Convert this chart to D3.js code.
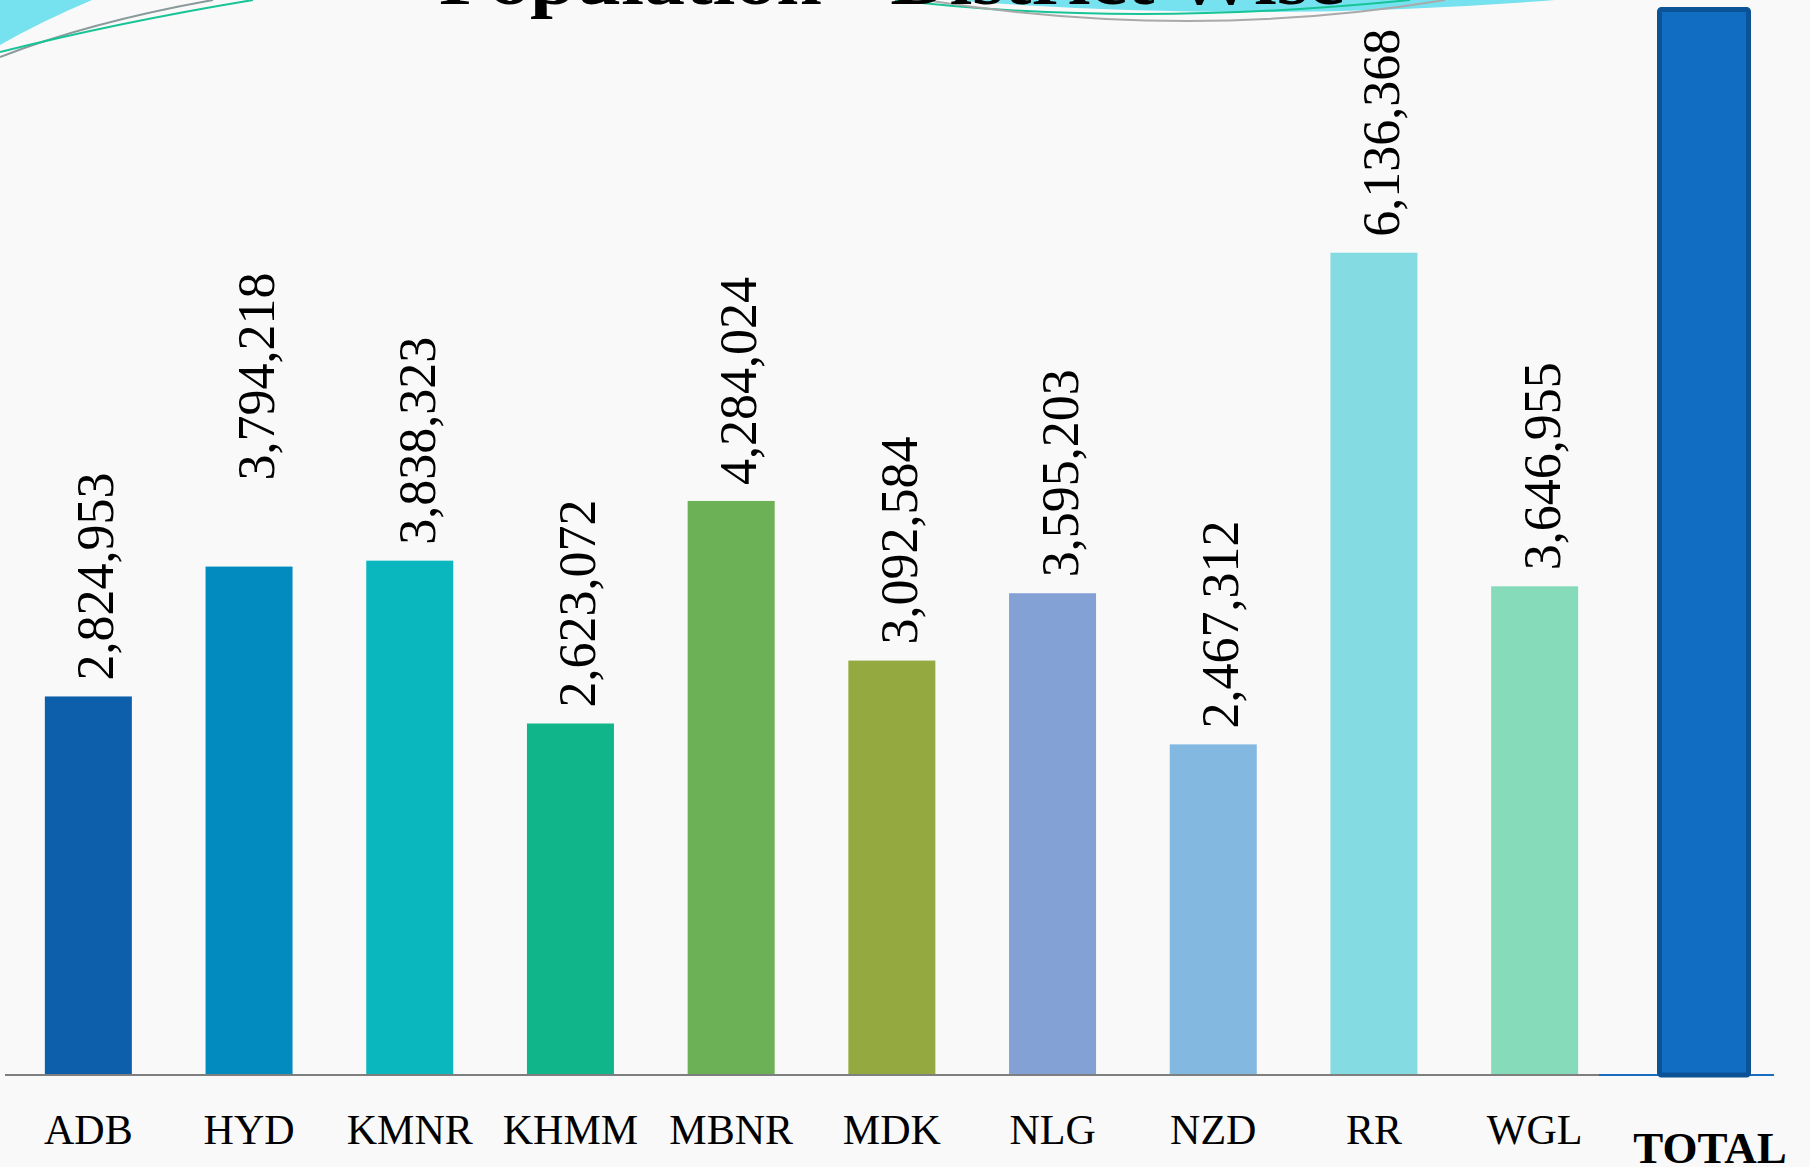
<!DOCTYPE html>
<html>
<head>
<meta charset="utf-8">
<script src="https://cdn.jsdelivr.net/npm/d3@7"></script>
<style>
  body { margin: 0; background: #f9f9f9; }
  svg { display: block; }
</style>
</head>
<body>
<script>
var w = 1810, h = 1167;
var baseY = 1075;

// data
var districts = ["ADB", "HYD", "KMNR", "KHMM", "MBNR", "MDK", "NLG", "NZD", "RR", "WGL"];
var population = [2824953, 3794218, 3838323, 2623072, 4284024, 3092584, 3595203, 2467312, 6136368, 3646955];
var barColors = ["#0e5fab", "#028bbf", "#0ab7bf", "#10b68a", "#6cb155", "#94aa40", "#84a1d5", "#83b8e0", "#84dbe2", "#86dbbb"];
var totalLabel = ["TOTAL"];
var titleText = "Population - District Wise";

var svg = d3.select("body")
	.append("svg")
	.attr("width", w)
	.attr("height", h);

svg.append("rect")
	.attr("width", w)
	.attr("height", h)
	.attr("fill", "#f9f9f9");

/*Decorations at the top*/
svg.append("path")
	.attr("d", "M0,0 L92,0 Q40,22 0,45 Z")
	.attr("fill", "#76e2ef");
svg.append("path")
	.attr("d", "M0,57 Q90,22 213,0")
	.attr("fill", "none")
	.attr("stroke", "#8a9a9c")
	.attr("stroke-width", 2);
svg.append("path")
	.attr("d", "M0,52 Q120,22 253,0")
	.attr("fill", "none")
	.attr("stroke", "#16c496")
	.attr("stroke-width", 2);
svg.append("path")
	.attr("d", "M950,0 Q1250,24 1555,0 Z")
	.attr("fill", "#76e2ef");
svg.append("path")
	.attr("d", "M895,0 Q1130,28 1410,0")
	.attr("fill", "none")
	.attr("stroke", "#16c496")
	.attr("stroke-width", 2);
svg.append("path")
	.attr("d", "M925,0 Q1190,42 1445,0")
	.attr("fill", "none")
	.attr("stroke", "#a9a9a9")
	.attr("stroke-width", 2);

svg.append("text")
	.attr("x", 439)
	.attr("y", 4)
	.attr("textLength", 906)
	.attr("lengthAdjust", "spacingAndGlyphs")
	.style("font-family", "'Liberation Serif', serif")
	.style("font-weight", "bold")
	.style("font-size", "70px")
	.attr("fill", "#000")
	.text(titleText);

/*Scales*/
var xScale = d3.scaleBand()
	.domain(districts)
	.range([8, 1615])
	.paddingInner(0.4586)
	.paddingOuter(0.2293);
var yScale = d3.scaleLinear()
	.domain([0, 8000000])
	.range([baseY, baseY - 8 * 134]);
var colorScale = d3.scaleOrdinal()
	.domain(districts)
	.range(barColors);

var totalValue = d3.sum(population);
var tScale = d3.scaleBand()
	.domain(totalLabel)
	.range([1657, 1751])
	.padding(0);
var tyScale = d3.scaleLinear()
	.domain([0, totalValue])
	.range([baseY, 7]);

var data = districts.map(function(d, i) {
	return {name: d, value: population[i]};
});

/*Bars*/
svg.selectAll("rect.bar")
	.data(data)
	.enter()
	.append("rect")
	.attr("class", "bar")
	.attr("x", function(d) { return xScale(d.name); })
	.attr("y", function(d) { return yScale(d.value); })
	.attr("width", xScale.bandwidth())
	.attr("height", function(d) { return baseY - yScale(d.value); })
	.attr("fill", function(d) { return colorScale(d.name); });

// HYD label sits higher than the rest in the original
var nudge = {HYD: 70};
var fmt = d3.format(",");

svg.selectAll("text.val")
	.data(data)
	.enter()
	.append("text")
	.attr("class", "val")
	.attr("transform", function(d) {
		var x = xScale(d.name) + xScale.bandwidth() / 2 + 25;
		var y = yScale(d.value) - 16 - (nudge[d.name] || 0);
		return "translate(" + x + "," + y + ") rotate(-90)";
	})
	.attr("text-anchor", "start")
	.style("font-family", "'Liberation Serif', serif")
	.style("font-size", "52px")
	.attr("fill", "#000")
	.text(function(d) { return fmt(d.value); });

/*Axis line*/
var xAxis = d3.axisBottom(xScale).tickSize(0).tickPadding(48);
var gx = svg.append("g")
	.attr("transform", "translate(0," + baseY + ")")
	.call(xAxis);
gx.select(".domain")
	.attr("stroke", "#7f7f7f")
	.attr("stroke-width", 2)
	.attr("d", "M5,0H1614");
gx.selectAll("text")
	.style("font-family", "'Liberation Serif', serif")
	.style("font-size", "42px")
	.attr("fill", "#000")
	.attr("dy", null)
	.attr("y", 69);

/*Total bar*/
svg.append("line")
	.attr("x1", 1599)
	.attr("x2", 1774)
	.attr("y1", baseY)
	.attr("y2", baseY)
	.attr("stroke", "#1a6cc0")
	.attr("stroke-width", 2);

svg.selectAll("rect.total")
	.data([totalValue])
	.enter()
	.append("rect")
	.attr("class", "total")
	.attr("x", tScale("TOTAL") + 2.5)
	.attr("y", function(d) { return tyScale(d) + 2.5; })
	.attr("width", tScale.bandwidth() - 5)
	.attr("height", function(d) { return baseY - tyScale(d) - 2.5; })
	.attr("rx", 2)
	.attr("fill", "#106dc2")
	.attr("stroke", "#0b5296")
	.attr("stroke-width", 5);

svg.append("text")
	.attr("x", tScale("TOTAL") + tScale.bandwidth() / 2 + 6)
	.attr("y", 1163)
	.attr("text-anchor", "middle")
	.style("font-family", "'Liberation Serif', serif")
	.style("font-weight", "bold")
	.style("font-size", "45px")
	.attr("fill", "#000")
	.text(totalLabel[0]);
</script>
</body>
</html>
